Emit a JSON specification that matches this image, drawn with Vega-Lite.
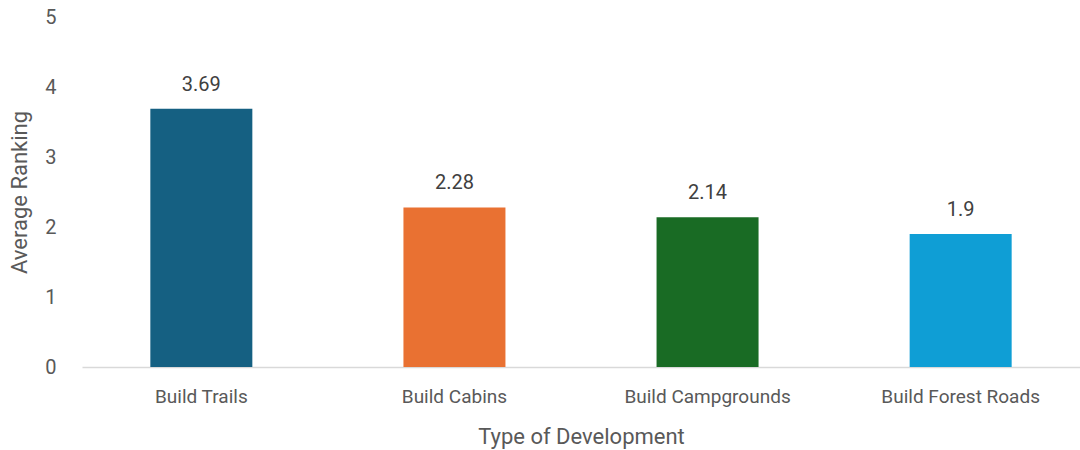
{
  "$schema": "https://vega.github.io/schema/vega-lite/v6.json",
  "width": 998,
  "height": 350,
  "autosize": {"type": "none"},
  "padding": {"left": 82, "top": 17, "right": 0, "bottom": 83},
  "background": "white",
  "config": {
    "view": {"stroke": null},
    "font": "Roboto"
  },
  "data": {
    "values": [
      {"type": "Build Trails", "value": 3.69, "label": "3.69"},
      {"type": "Build Cabins", "value": 2.28, "label": "2.28"},
      {"type": "Build Campgrounds", "value": 2.14, "label": "2.14"},
      {"type": "Build Forest Roads", "value": 1.9, "label": "1.9"}
    ]
  },
  "encoding": {
    "x": {
      "field": "type",
      "type": "nominal",
      "sort": null,
      "scale": {"paddingInner": 0.597, "paddingOuter": 0.27},
      "axis": {
        "title": "Type of Development",
        "titleFontSize": 22,
        "titleFontWeight": "normal",
        "titleColor": "#595959",
        "titlePadding": 20,
        "labelAngle": 0,
        "labelFontSize": 19,
        "labelColor": "#595959",
        "labelPadding": 20,
        "ticks": false,
        "domainColor": "#D9D9D9",
        "domainWidth": 1.5,
        "grid": false
      }
    }
  },
  "layer": [
    {
      "mark": {"type": "bar"},
      "encoding": {
        "y": {
          "field": "value",
          "type": "quantitative",
          "scale": {"domain": [0, 5], "nice": false},
          "axis": {
            "title": "Average Ranking",
            "titleFontSize": 22,
            "titleFontWeight": "normal",
            "titleColor": "#595959",
            "titlePadding": 13,
            "values": [0, 1, 2, 3, 4, 5],
            "format": "d",
            "labelFontSize": 20,
            "labelColor": "#595959",
            "labelPadding": 26,
            "ticks": false,
            "domain": false,
            "grid": false
          }
        },
        "color": {
          "field": "type",
          "type": "nominal",
          "sort": null,
          "scale": {
            "domain": ["Build Trails", "Build Cabins", "Build Campgrounds", "Build Forest Roads"],
            "range": ["#156082", "#E97132", "#196B24", "#0F9ED5"]
          },
          "legend": null
        }
      }
    },
    {
      "mark": {"type": "text", "dy": -14, "baseline": "bottom", "fontSize": 20, "color": "#404040"},
      "encoding": {
        "y": {"field": "value", "type": "quantitative"},
        "text": {"field": "label"}
      }
    }
  ]
}
